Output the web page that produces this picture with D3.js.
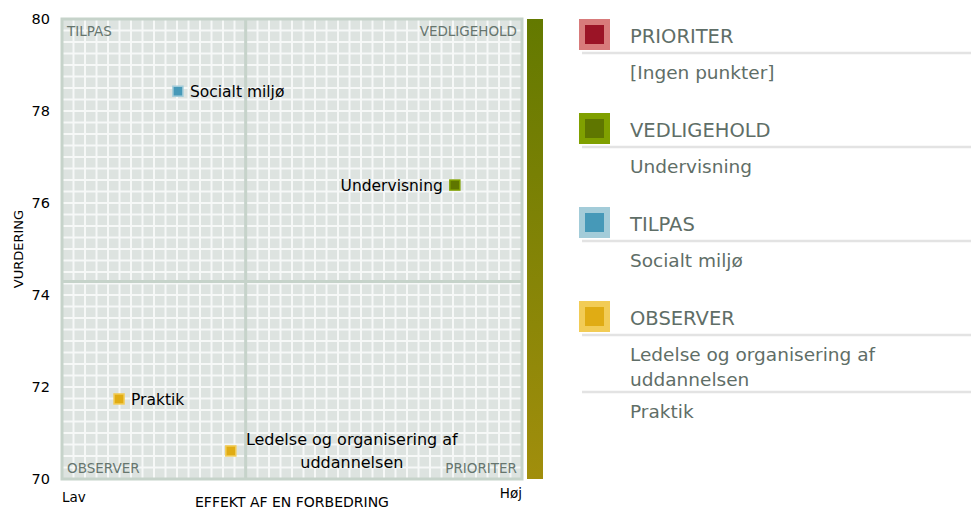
<!DOCTYPE html>
<html>
<head>
<meta charset="utf-8">
<script src="https://cdn.jsdelivr.net/npm/d3@7"></script>
<style>
  body { margin: 0; background: #fff; }
  svg { font-family: "DejaVu Sans", Verdana, sans-serif; }
</style>
</head>
<body>
<svg id="chart" width="971" height="511"></svg>
<script>
// data
var names = ["Socialt miljø", "Undervisning", "Praktik", "Ledelse og organisering af uddannelsen"];
var effekt = [25.2, 85.4, 12.4, 36.7];
var vurdering = [78.43, 76.39, 71.74, 70.61];
var yTicks = [70, 72, 74, 76, 78, 80];
var quadrants = ["PRIORITER", "VEDLIGEHOLD", "TILPAS", "OBSERVER"];

var colors = {
  PRIORITER:   {inner: "#9b1426", outer: "#d87b7b"},
  VEDLIGEHOLD: {inner: "#5f7600", outer: "#80a000"},
  TILPAS:      {inner: "#4699b8", outer: "#a3ccd9"},
  OBSERVER:    {inner: "#e0ac14", outer: "#f2cc56"}
};

var svg = d3.select("#chart"),
    margin = {top: 19, left: 62},
    w = 460, h = 460;

var x = d3.scaleLinear().domain([0, 100]).range([0, w]);
var y = d3.scaleLinear().domain([70, 80]).range([h, 0]);

var points = names.map(function(n, i) { return {name: n, x: effekt[i], y: vurdering[i]}; });
var midX = d3.mean(points, function(d) { return d.x; });
var midY = d3.mean(points, function(d) { return d.y; });

points.forEach(function(d) {
  if (d.x >= midX && d.y >= midY) d.q = "VEDLIGEHOLD";
  else if (d.x < midX && d.y >= midY) d.q = "TILPAS";
  else if (d.x >= midX) d.q = "PRIORITER";
  else d.q = "OBSERVER";
});

var g = svg.append("g")
    .attr("transform", "translate(" + margin.left + "," + margin.top + ")");

g.append("rect")
    .attr("width", w).attr("height", h)
    .attr("fill", "#dde3e0");

// the little grid
var cells = d3.range(1, 40).map(function(k) { return k * 100 / 40; });
g.selectAll(".gx").data(cells).enter().append("line")
    .attr("class", "gx")
    .attr("x1", function(d) { return x(d); }).attr("x2", function(d) { return x(d); })
    .attr("y1", 0).attr("y2", h)
    .attr("stroke", "#f6f8f7").attr("stroke-width", 2);
var ycells = d3.range(1, 40).map(function(k) { return 70 + k * 10 / 40; });
g.selectAll(".gy").data(ycells).enter().append("line")
    .attr("class", "gy")
    .attr("y1", function(d) { return y(d); }).attr("y2", function(d) { return y(d); })
    .attr("x1", 0).attr("x2", w)
    .attr("stroke", "#f6f8f7").attr("stroke-width", 2);

// mean lines
g.append("line")
    .attr("x1", x(midX)).attr("x2", x(midX)).attr("y1", 0).attr("y2", h)
    .attr("stroke", "#c6d3ca").attr("stroke-width", 3);
g.append("line")
    .attr("y1", y(midY)).attr("y2", y(midY)).attr("x1", 0).attr("x2", w)
    .attr("stroke", "#c6d3ca").attr("stroke-width", 3);

g.append("rect")
    .attr("width", w).attr("height", h)
    .attr("fill", "none")
    .attr("stroke", "#c6d3ca").attr("stroke-width", 3);

// quadrant names
var qpos = [
  {t: "TILPAS", x: 5, y: 17, a: "start"},
  {t: "VEDLIGEHOLD", x: w - 5, y: 17, a: "end"},
  {t: "OBSERVER", x: 5, y: h - 6, a: "start"},
  {t: "PRIORITER", x: w - 5, y: h - 6, a: "end"}
];
g.selectAll(".qlab").data(qpos).enter().append("text")
    .attr("class", "qlab")
    .attr("x", function(d) { return d.x; })
    .attr("y", function(d) { return d.y; })
    .attr("text-anchor", function(d) { return d.a; })
    .attr("fill", "#66756e")
    .style("font-size", "13.5px")
    .text(function(d) { return d.t; });

// y axis
var yAxis = g.append("g")
    .call(d3.axisLeft(y).tickValues(yTicks).tickSize(0).tickPadding(12));
yAxis.select(".domain").remove();
yAxis.selectAll("text")
    .style("font-size", "14.5px")
    .style("font-family", "'DejaVu Sans', Verdana, sans-serif")
    .attr("fill", "#000");

svg.append("text")
    .attr("transform", "translate(23," + (margin.top + h / 2) + ") rotate(-90)")
    .attr("text-anchor", "middle")
    .style("font-size", "13px")
    .text("VURDERING");

svg.append("text")
    .attr("x", 292).attr("y", 507)
    .attr("text-anchor", "middle")
    .style("font-size", "14px")
    .text("EFFEKT AF EN FORBEDRING");
svg.append("text")
    .attr("x", margin.left).attr("y", 502)
    .style("font-size", "13.5px")
    .text("Lav");
svg.append("text")
    .attr("x", margin.left + w).attr("y", 498)
    .attr("text-anchor", "end")
    .style("font-size", "13.5px")
    .text("Høj");

// gradient bar
var grad = svg.append("defs").append("linearGradient")
    .attr("id", "bar-grad")
    .attr("x1", 0).attr("y1", 0).attr("x2", 0).attr("y2", 1);
grad.append("stop").attr("offset", "0%").attr("stop-color", "#637900");
grad.append("stop").attr("offset", "100%").attr("stop-color", "#a18e0c");
svg.append("rect")
    .attr("x", margin.left + w + 5).attr("y", margin.top)
    .attr("width", 16).attr("height", h)
    .attr("fill", "url(#bar-grad)");

// points
var pt = g.selectAll(".pt").data(points).enter().append("g")
    .attr("class", "pt")
    .attr("transform", function(d) { return "translate(" + x(d.x) + "," + y(d.y) + ")"; });
pt.append("rect")
    .attr("x", -5).attr("y", -5).attr("width", 10).attr("height", 10)
    .attr("fill", function(d) { return colors[d.q].inner; })
    .attr("stroke", function(d) { return colors[d.q].outer; })
    .attr("stroke-width", 1.5);

var labPos = {
  "Socialt miljø": {dx: 12, a: "start"},
  "Undervisning": {dx: -12, a: "end"},
  "Praktik": {dx: 12, a: "start"}
};
pt.each(function(d) {
  var s = d3.select(this);
  if (labPos[d.name]) {
    s.append("text")
      .attr("x", labPos[d.name].dx).attr("y", 6)
      .attr("text-anchor", labPos[d.name].a)
      .style("font-size", "15.5px")
      .text(d.name);
  } else {
    var parts = ["Ledelse og organisering af", "uddannelsen"];
    s.selectAll("text").data(parts).enter().append("text")
      .attr("x", 121).attr("y", function(t, i) { return -6 + i * 23; })
      .attr("text-anchor", "middle")
      .style("font-size", "16px")
      .text(function(t) { return t; });
  }
});

// legend
var legendItems = {
  PRIORITER: ["[Ingen punkter]"],
  VEDLIGEHOLD: ["Undervisning"],
  TILPAS: ["Socialt miljø"],
  OBSERVER: [["Ledelse og organisering af", "uddannelsen"], "Praktik"]
};
var lg = svg.append("g").attr("transform", "translate(579,19)");
quadrants.forEach(function(q, i) {
  var grp = lg.append("g").attr("transform", "translate(0," + (i * 94) + ")");
  grp.append("rect").attr("x", 0).attr("y", 0).attr("width", 31).attr("height", 31)
      .attr("fill", colors[q].outer);
  grp.append("rect").attr("x", 6).attr("y", 6).attr("width", 19).attr("height", 19)
      .attr("fill", colors[q].inner);
  grp.append("text").attr("x", 51).attr("y", 24)
      .attr("fill", "#5f6e67").style("font-size", "19.5px")
      .text(q);
  var yy = 34;
  legendItems[q].forEach(function(it) {
    grp.append("line").attr("x1", 3).attr("x2", 392).attr("y1", yy).attr("y2", yy)
        .attr("stroke", "#e3e3e3").attr("stroke-width", 2.5);
    var lines = Array.isArray(it) ? it : [it];
    lines.forEach(function(t, k) {
      grp.append("text").attr("x", 51).attr("y", yy + 26 + k * 25)
          .attr("fill", "#5f6e67").style("font-size", "18.5px")
          .text(t);
    });
    yy += 7 + lines.length * 25 + 0;
  });
});
</script>
</body>
</html>
